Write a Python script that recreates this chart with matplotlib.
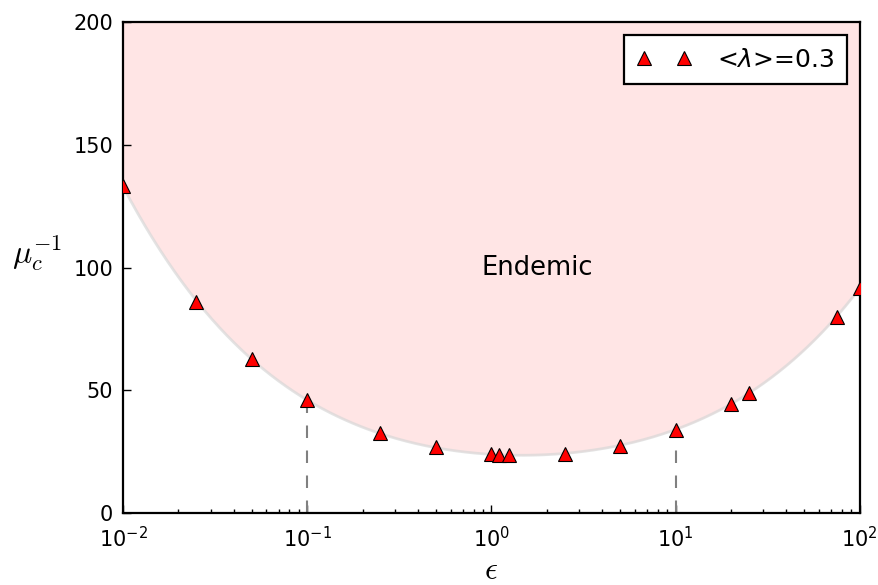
import numpy as np
import matplotlib
matplotlib.use('Agg')
import matplotlib.pyplot as plt

# critical inverse recovery rate vs epsilon, <lambda> = 0.3
eps = [0.01, 0.025, 0.05, 0.1, 0.25, 0.5, 1.0, 1.1, 1.25, 2.5, 5.0, 10.0, 20.0, 25.0, 75.0, 100.0]
mu_inv = [133.2, 86.2, 62.6, 46.2, 32.5, 26.9, 24.0, 23.6, 23.5, 24.0, 27.5, 34.0, 44.6, 49.0, 80.0, 91.6]
dashed_at = [0.1, 10.0]

plt.rcParams['font.family'] = ['DejaVu Sans']
plt.rcParams['axes.unicode_minus'] = False

fig = plt.figure(figsize=(8.79, 5.85), dpi=100)
ax = fig.add_axes([0.140, 0.123, 0.838, 0.839])

# smooth boundary of the endemic region (fit in log-eps)
coef = np.polyfit(np.log10(eps), mu_inv, 4)
xs = np.logspace(-2, 2, 300)
ys = np.polyval(coef, np.log10(xs))
ax.fill_between(xs, ys, 200, color='red', alpha=0.1, lw=0, zorder=1)
ax.plot(xs, ys, color='#d8d8d8', lw=2, alpha=0.7, zorder=1)

for xv in dashed_at:
    yv = mu_inv[eps.index(xv)]
    ax.plot([xv, xv], [0, yv], color='gray', lw=1.5, dashes=(6, 6), zorder=2)

ax.plot(eps, mu_inv, ls='none', marker='^', ms=10, mfc='red', mec='black',
        mew=0.8, label=r'<$\lambda$>=0.3', zorder=3, clip_on=True)

ax.text(1.77, 100, 'Endemic', fontsize=18.5, ha='center', va='center')

ax.set_xscale('log')
ax.set_xlim(0.01, 100)
ax.set_ylim(0, 200)
ax.set_yticks([0, 50, 100, 150, 200])

ax.tick_params(which='both', direction='in', top=False, right=False, labelsize=15)
ax.tick_params(which='major', length=6, width=1, pad=7)
ax.tick_params(which='minor', length=3, width=1)
ax.tick_params(axis='x', which='major', pad=9)
for s in ax.spines.values():
    s.set_linewidth(1.6)

ax.set_xlabel(r'$\epsilon$', fontsize=23, math_fontfamily='cm')
ax.xaxis.label.set_va('center')
ax.xaxis.set_label_coords(0.5, -0.117)
ax.set_ylabel(r'$\mu_c^{-1}$', fontsize=23, rotation=0, math_fontfamily='cm')
ax.yaxis.set_label_coords(-0.117, 0.49)

leg = ax.legend(loc='upper right', numpoints=2, fontsize=18, fancybox=False,
                framealpha=1, edgecolor='black', borderaxespad=0.52,
                borderpad=0.5, handlelength=2.2, handletextpad=1.0)
leg.get_frame().set_linewidth(1.6)

fig.savefig('out.png', dpi=100)
